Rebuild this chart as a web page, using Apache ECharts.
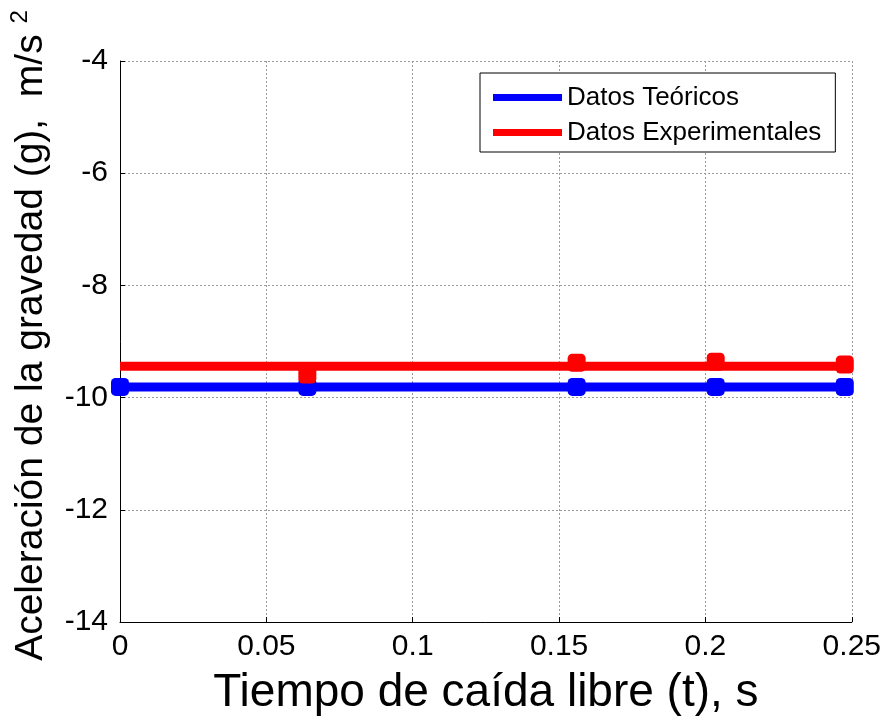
<!DOCTYPE html>
<html>
<head>
<meta charset="utf-8">
<script src="https://cdn.jsdelivr.net/npm/echarts@6/dist/echarts.min.js"></script>
<style>
html,body{margin:0;padding:0;background:#fff;}
#chart{width:884px;height:721px;}
</style>
</head>
<body>
<div id="chart"></div>
<script>
// Data
const timeTeo = [0, 0.064, 0.156, 0.2035, 0.2476];
const gTeo = [-9.81, -9.81, -9.81, -9.81, -9.81];
const timeExp = [0.064, 0.156, 0.2035, 0.2476];
const gExp = [-9.59, -9.38, -9.36, -9.41];
const expLineTime = [0, 0.2476];
const expLineValue = [-9.44, -9.44];
const xTicks = [0, 0.05, 0.1, 0.15, 0.2, 0.25];
const yTicks = [-14, -12, -10, -8, -6, -4];
const seriesNames = ['Datos Teóricos', 'Datos Experimentales'];

const FONT = "'Liberation Sans', Arial, sans-serif";
const pair = (xs, ys) => xs.map((x, i) => [x, ys[i]]);

const chart = echarts.init(document.getElementById('chart'), null, {renderer: 'canvas'});
chart.setOption({
  backgroundColor: '#ffffff',
  animation: false,
  textStyle: {fontFamily: FONT},
  grid: {left: 117, right: 32, top: 61, bottom: 95, containLabel: false},
  legend: {
    data: seriesNames,
    orient: 'vertical',
    left: 480,
    top: 73,
    backgroundColor: '#ffffff',
    borderColor: '#000000',
    borderWidth: 1,
    borderRadius: 0,
    padding: [10, 14, 5, 13],
    itemGap: 6,
    itemWidth: 69,
    itemHeight: 7,
    icon: 'rect',
    textStyle: {fontFamily: FONT, fontSize: 26, color: '#000', lineHeight: 29}
  },
  xAxis: {
    type: 'value',
    min: xTicks[0],
    max: xTicks[xTicks.length - 1],
    interval: 0.05,
    name: 'Tiempo de caída libre (t), s',
    nameLocation: 'middle',
    nameGap: 48,
    nameTextStyle: {fontFamily: FONT, fontSize: 46, color: '#000'},
    axisLine: {show: true, onZero: false, lineStyle: {color: '#000', width: 1}},
    axisTick: {show: true, inside: true, length: 5, lineStyle: {color: '#000'}},
    axisLabel: {
      fontFamily: FONT, fontSize: 30, color: '#000', margin: 10,
      formatter: v => String(Math.round(v * 100) / 100)
    },
    splitLine: {show: true, lineStyle: {type: [2, 2], color: '#9a9a9a', width: 1}}
  },
  yAxis: {
    type: 'value',
    min: yTicks[0],
    max: yTicks[yTicks.length - 1],
    interval: 2,
    name: 'Aceleración de la gravedad (g),  m/s {sup|2}',
    nameLocation: 'middle',
    nameRotate: 90,
    nameGap: 66,
    nameTextStyle: {
      fontFamily: FONT, fontSize: 39, color: '#000',
      padding: [0, 0, 0, 12],
      rich: {sup: {fontFamily: FONT, fontSize: 24, color: '#000', padding: [0, 0, 22, 0]}}
    },
    axisLine: {show: true, onZero: false, lineStyle: {color: '#000', width: 1}},
    axisTick: {show: true, inside: true, length: 5, lineStyle: {color: '#000'}},
    axisLabel: {fontFamily: FONT, fontSize: 30, color: '#000', margin: 12},
    splitLine: {show: true, lineStyle: {type: [2, 2], color: '#9a9a9a', width: 1}}
  },
  series: [
    {
      name: seriesNames[0],
      type: 'line',
      data: pair(timeTeo, gTeo),
      color: '#0000ff',
      lineStyle: {width: 9, color: '#0000ff'},
      symbol: 'roundRect',
      symbolSize: 18,
      showAllSymbol: true,
      itemStyle: {color: '#0000ff', opacity: 1},
      z: 2
    },
    {
      name: seriesNames[1],
      type: 'line',
      data: pair(expLineTime, expLineValue),
      color: '#ff0000',
      lineStyle: {width: 9, color: '#ff0000'},
      symbol: 'none',
      itemStyle: {color: '#ff0000'},
      z: 3
    },
    {
      name: 'Experimental puntos',
      type: 'scatter',
      data: pair(timeExp, gExp),
      symbol: 'roundRect',
      symbolSize: 18,
      itemStyle: {color: '#ff0000', opacity: 1},
      z: 4
    }
  ]
});
</script>
</body>
</html>
